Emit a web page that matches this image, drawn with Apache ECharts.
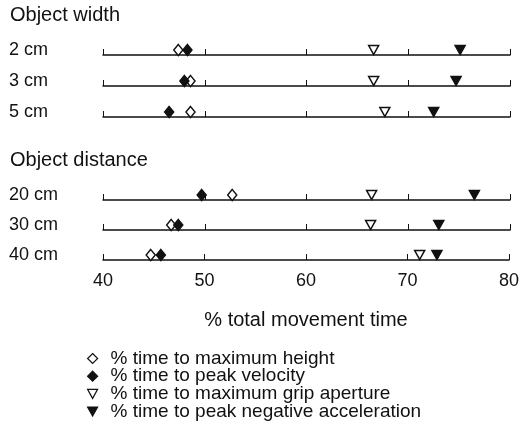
<!DOCTYPE html>
<html>
<head>
    <meta charset="utf-8">
    <title>Movement timing</title>
    <script src="https://cdn.jsdelivr.net/npm/echarts@6/dist/echarts.min.js"></script>
    <style>
        html, body { margin: 0; padding: 0; background: #fff; }
        #chart { width: 522px; height: 443px; }
    </style>
</head>
<body>
<div id="chart"></div>
<script>
    // 数据
    var rowLabels = ['2 cm', '3 cm', '5 cm', '20 cm', '30 cm', '40 cm'];
    var maxHeight = [47.4, 48.6, 48.6, 52.7, 46.7, 44.7];
    var peakVelocity = [48.3, 48.0, 46.5, 49.7, 47.4, 45.7];
    var maxAperture = [66.6, 66.6, 67.7, 66.4, 66.3, 71.2];
    var peakNegAcc = [75.1, 74.7, 72.5, 76.5, 73.0, 72.9];
    var groupTitles = ['Object width', 'Object distance'];
    var tickValues = [40, 50, 60, 70, 80];

    var font = "'Liberation Sans', Arial, Helvetica, sans-serif";
    var ink = '#111';
    var rowLineY = [55, 86, 117, 200, 230, 260];
    var downTri = 'path://M0,0 L10,0 L5,9 Z';

    var grids = [], xAxes = [], yAxes = [], series = [];

    var kinds = [
        {name: '% time to maximum height', data: maxHeight, symbol: 'diamond', size: [9, 11], fill: '#fff'},
        {name: '% time to peak velocity', data: peakVelocity, symbol: 'diamond', size: [9, 11], fill: ink},
        {name: '% time to maximum grip aperture', data: maxAperture, symbol: downTri, size: [10, 9], fill: '#fff'},
        {name: '% time to peak negative acceleration', data: peakNegAcc, symbol: downTri, size: [10, 9], fill: ink}
    ];

    rowLabels.forEach(function (label, i) {
        var last = i === rowLabels.length - 1;
        grids.push({left: 103, right: 12, top: rowLineY[i] - 10, height: 10});
        xAxes.push({
            type: 'value', gridIndex: i, min: tickValues[0], max: tickValues[tickValues.length - 1], interval: 10,
            splitLine: {show: false},
            axisLine: {show: true, lineStyle: {color: ink, width: 1.5}},
            axisTick: {show: true, inside: true, length: 6, lineStyle: {color: ink, width: 1}},
            axisLabel: {show: last, margin: 12, color: ink, fontSize: 18, fontFamily: font},
            name: last ? '% total movement time' : '',
            nameLocation: 'middle', nameGap: 50,
            nameTextStyle: {color: ink, fontSize: 20, fontFamily: font}
        });
        yAxes.push({
            type: 'category', gridIndex: i, data: [label],
            axisLine: {show: false}, axisTick: {show: false},
            axisLabel: {align: 'left', margin: 94, color: ink, fontSize: 18, fontFamily: font}
        });
        kinds.forEach(function (k) {
            series.push({
                type: 'scatter', name: k.name, xAxisIndex: i, yAxisIndex: i,
                symbol: k.symbol, symbolSize: k.size,
                itemStyle: {color: k.fill, borderColor: ink, borderWidth: 1.5, opacity: 1},
                data: [[k.data[i], label]],
                silent: true
            });
        });
    });

    var chart = echarts.init(document.getElementById('chart'));
    chart.setOption({
        animation: false,
        backgroundColor: '#fff',
        grid: grids,
        xAxis: xAxes,
        yAxis: yAxes,
        legend: {
            orient: 'vertical', left: 82, top: 344, itemGap: -1.3,
            itemWidth: 10, itemHeight: 10,
            selectedMode: false,
            data: kinds.map(function (k) {
                return {name: k.name, icon: k.symbol === 'diamond' ? 'diamond' : downTri,
                    itemStyle: {color: k.fill, borderColor: ink, borderWidth: 1.2}};
            }),
            textStyle: {color: ink, fontSize: 19, lineHeight: 18, fontFamily: font, padding: [0, 0, 0, 8]}
        },
        graphic: [
            {type: 'text', left: 10, top: 5, style: {text: groupTitles[0], fill: ink, font: '20px ' + font}},
            {type: 'text', left: 10, top: 150, style: {text: groupTitles[1], fill: ink, font: '20px ' + font}}
        ],
        series: series
    });
</script>
</body>
</html>
